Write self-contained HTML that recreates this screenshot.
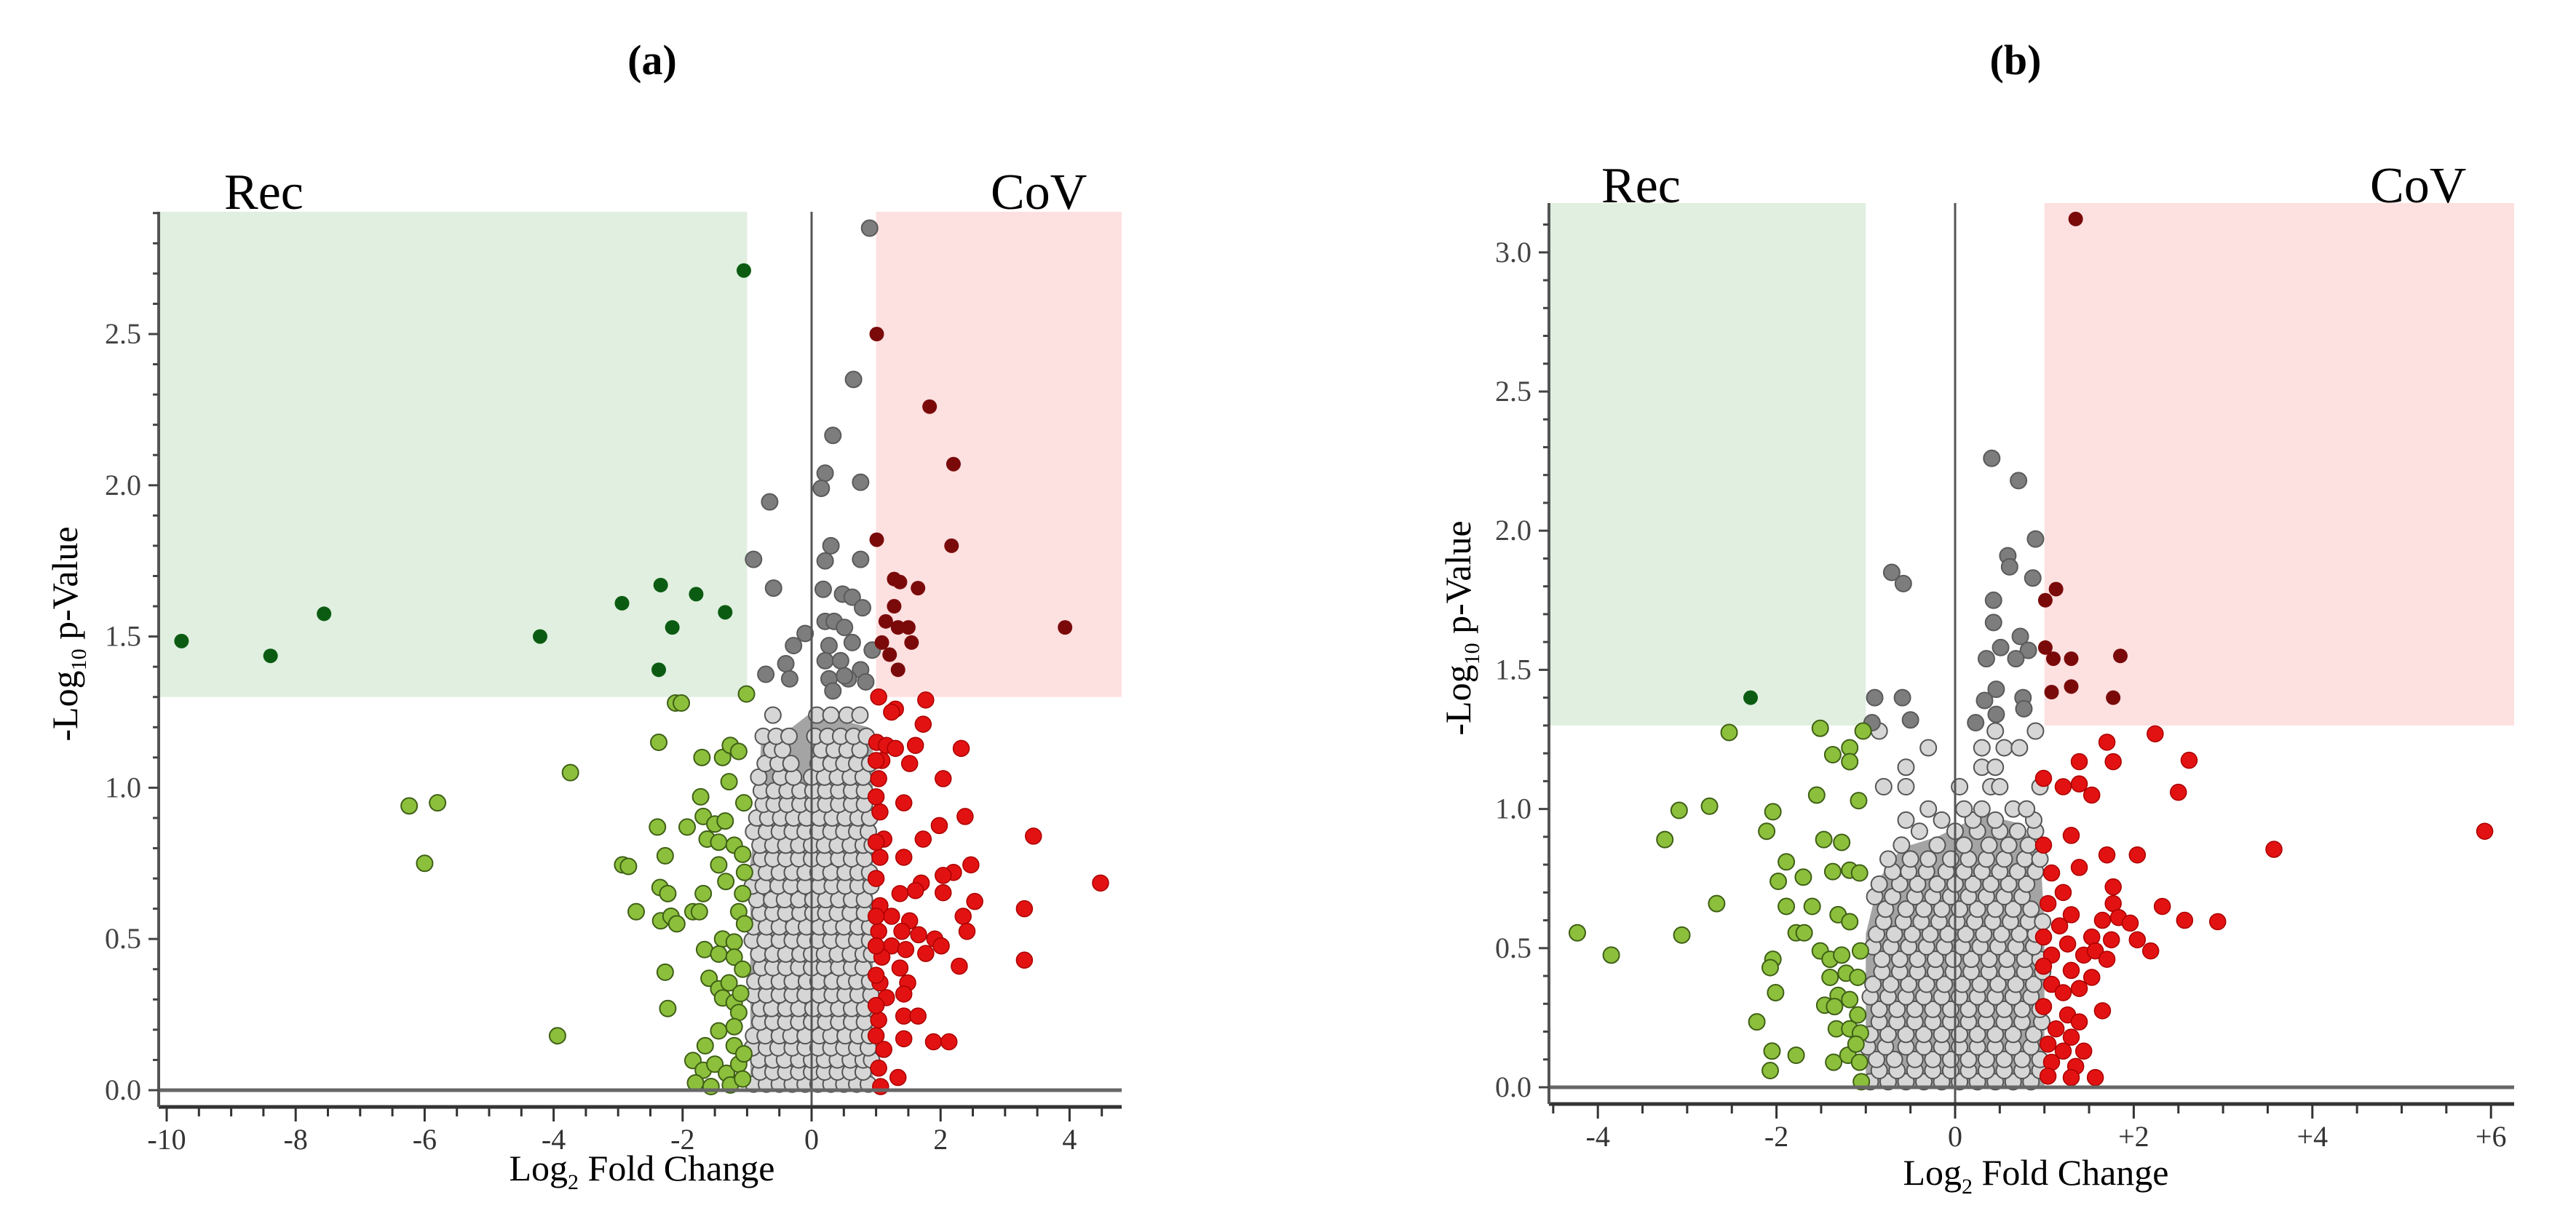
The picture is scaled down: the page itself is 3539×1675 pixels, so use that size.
<!DOCTYPE html>
<html><head><meta charset="utf-8"><style>
html,body{margin:0;padding:0;background:#fff;}
svg{display:block;font-family:"Liberation Serif",serif;}
</style></head><body>
<svg id="chart" width="3539" height="1675" viewBox="0 0 3539 1675" xmlns="http://www.w3.org/2000/svg">
<rect width="3539" height="1675" fill="#fff"/>
<text x="896" y="102" font-size="58" font-weight="bold" text-anchor="middle">(a)</text>
<text x="2769" y="102" font-size="58" font-weight="bold" text-anchor="middle">(b)</text>
<g id="pa"></g>
<g id="pb"></g>
</svg>
<script>
// ---------- Panel (a) data ----------
const aDownSigX = [-9.77,-8.39,-7.56,-4.21,-2.94,-2.34,-1.79,-1.34,-2.16,-2.37,-1.05];
const aDownSigY = [1.485,1.436,1.575,1.50,1.61,1.67,1.64,1.58,1.53,1.39,2.71];
const aUpSigX = [1.01,1.83,2.2,2.17,1.01,3.93,1.28,1.37,1.65,1.28,1.15,1.34,1.50,1.55,1.21,1.34,1.09];
const aUpSigY = [2.50,2.26,2.07,1.80,1.82,1.53,1.69,1.68,1.66,1.60,1.55,1.53,1.53,1.48,1.44,1.39,1.48];
const aGraySigX = [0.9,0.65,0.33,0.21,0.15,0.76,-0.65,0.30,0.21,-0.9,0.76,-0.59,0.18,0.48,0.63,0.79,0.21,0.35,0.51,0.63,-0.1,-0.28,0.27,0.94,-0.4,0.21,0.45,0.76,-0.71,-0.34,0.27,0.57,0.84,0.33,0.51];
const aGraySigY = [2.85,2.35,2.165,2.04,1.99,2.01,1.945,1.80,1.75,1.755,1.755,1.66,1.656,1.64,1.63,1.595,1.55,1.55,1.53,1.48,1.51,1.47,1.47,1.455,1.41,1.42,1.42,1.39,1.375,1.36,1.36,1.36,1.35,1.32,1.37];
const aDownX = [-1.01,-2.11,-2.02,-2.37,-3.74,-6.24,-5.8,-6.0,-3.94,-1.70,-1.38,-1.26,-1.13,-1.28,-1.05,-1.72,-1.68,-1.5,-1.34,-2.39,-1.93,-1.62,-1.44,-1.2,-1.07,-2.27,-2.93,-2.84,-1.44,-1.33,-2.35,-2.23,-1.68,-1.07,-2.72,-1.84,-1.74,-1.13,-2.34,-2.18,-2.09,-1.38,-1.2,-1.66,-1.44,-1.2,-2.27,-1.59,-1.44,-1.28,-1.38,-1.2,-2.23,-1.13,-1.44,-1.2,-1.65,-1.2,-1.84,-1.68,-1.5,-1.32,-1.13,-1.8,-1.56,-1.26,-1.07,-1.07,-1.1,-1.04,-1.04,-1.05];
const aDownY = [1.31,1.28,1.28,1.15,1.05,0.94,0.95,0.75,0.18,1.10,1.10,1.14,1.12,1.02,0.95,0.97,0.905,0.88,0.89,0.87,0.87,0.83,0.82,0.81,0.78,0.775,0.745,0.74,0.745,0.69,0.67,0.65,0.65,0.65,0.59,0.59,0.59,0.59,0.56,0.575,0.55,0.50,0.49,0.465,0.45,0.44,0.39,0.37,0.335,0.355,0.305,0.29,0.27,0.257,0.196,0.21,0.147,0.147,0.098,0.066,0.086,0.056,0.086,0.024,0.012,0.017,0.037,0.40,0.32,0.55,0.72,0.12];
const aUpX = [1.04,1.30,1.77,1.24,1.73,2.32,1.01,1.16,1.30,1.61,1.52,1.09,2.04,1.04,1.43,1.06,2.38,1.98,3.44,1.73,1.12,1.43,1.06,2.47,2.2,2.04,4.48,1.70,1.37,1.61,2.04,2.53,3.3,1.06,1.24,1.52,2.35,2.41,1.04,1.40,1.66,1.91,2.01,1.24,1.46,1.77,3.3,2.29,1.09,1.37,1.06,1.49,1.16,1.43,1.04,1.43,1.65,1.89,2.13,1.12,1.43,1.04,1.34,1.07,1.0,1.0,1.0,1.0,1.0,1.0,1.0,1.0,1.0];
const aUpY = [1.30,1.26,1.29,1.25,1.21,1.13,1.15,1.14,1.13,1.14,1.08,1.09,1.03,1.03,0.95,0.92,0.905,0.875,0.84,0.83,0.83,0.77,0.77,0.745,0.72,0.71,0.685,0.685,0.65,0.66,0.653,0.624,0.60,0.61,0.575,0.56,0.575,0.525,0.525,0.525,0.514,0.50,0.477,0.477,0.465,0.452,0.43,0.41,0.44,0.404,0.355,0.355,0.306,0.318,0.232,0.245,0.245,0.16,0.16,0.135,0.17,0.073,0.042,0.012,0.18,0.28,0.38,0.477,0.575,0.70,0.82,0.97,1.09];
const aGrayRows = [
 [0.02,[-0.9,-0.7,-0.5,-0.3,-0.1,0.1,0.3,0.5,0.7,0.88]],
 [0.06,[-0.8,-0.6,-0.4,-0.2,0.0,0.2,0.4,0.6,0.8]],
 [0.10,[-0.82,-0.6,-0.42,-0.2,0.0,0.2,0.4,0.6,0.8,0.93]],
 [0.14,[-0.92,-0.7,-0.52,-0.3,-0.1,0.1,0.3,0.5,0.7,0.88]],
 [0.18,[-0.9,-0.72,-0.5,-0.32,-0.1,0.12,0.3,0.52,0.72,0.9]],
 [0.225,[-0.8,-0.6,-0.4,-0.2,0.0,0.22,0.42,0.62,0.82]],
 [0.27,[-0.8,-0.62,-0.4,-0.2,0.02,0.22,0.42,0.62,0.82]],
 [0.315,[-0.9,-0.7,-0.5,-0.3,-0.1,0.12,0.32,0.52,0.72,0.92]],
 [0.36,[-0.88,-0.7,-0.5,-0.3,-0.08,0.1,0.32,0.52,0.7,0.9]],
 [0.405,[-0.78,-0.6,-0.4,-0.2,0.0,0.2,0.42,0.62,0.8]],
 [0.45,[-0.82,-0.6,-0.4,-0.18,0.0,0.2,0.4,0.6,0.8,0.93]],
 [0.495,[-0.92,-0.72,-0.5,-0.3,-0.1,0.1,0.3,0.5,0.7,0.9]],
 [0.54,[-0.9,-0.7,-0.5,-0.28,-0.08,0.12,0.3,0.5,0.72,0.9]],
 [0.585,[-0.8,-0.6,-0.4,-0.18,0.02,0.22,0.4,0.6,0.82]],
 [0.63,[-0.85,-0.62,-0.42,-0.2,0.02,0.22,0.42,0.62,0.82]],
 [0.675,[-0.92,-0.75,-0.52,-0.32,-0.1,0.12,0.32,0.52,0.72,0.92]],
 [0.72,[-0.88,-0.7,-0.5,-0.3,-0.1,0.1,0.3,0.52,0.72,0.9]],
 [0.765,[-0.78,-0.6,-0.4,-0.2,0.0,0.2,0.42,0.62,0.82]],
 [0.81,[-0.8,-0.6,-0.4,-0.2,0.0,0.2,0.4,0.6,0.8,0.94]],
 [0.855,[-0.9,-0.7,-0.5,-0.3,-0.1,0.1,0.3,0.5,0.7,0.88]],
 [0.90,[-0.85,-0.68,-0.48,-0.28,-0.08,0.12,0.32,0.52,0.72,0.9]],
 [0.945,[-0.75,-0.58,-0.38,-0.18,0.02,0.22,0.42,0.62,0.82]],
 [0.99,[-0.78,-0.58,-0.38,-0.18,0.02,0.22,0.42,0.62,0.82]],
 [1.035,[-0.82,-0.48,-0.28,0.0,0.2,0.4,0.6,0.8]],
 [1.08,[-0.72,-0.52,-0.32,0.1,0.3,0.5,0.7,0.9]],
 [1.125,[-0.62,-0.45,0.15,0.35,0.55,0.75]],
 [1.17,[-0.75,-0.55,-0.35,0.05,0.25,0.45,0.65,0.85]],
 [1.24,[-0.6,0.08,0.3,0.55,0.75]]
];
const aBackdrop = [[-0.95,0],[-0.95,0.75],[-0.82,0.95],[-0.78,1.18],[-0.3,1.2],[0,1.25],[0.88,1.2],[0.95,1.12],[0.95,0]];
const aXTicks = [-10,-8,-6,-4,-2,0,2,4];
const aXTickLabels = ["-10","-8","-6","-4","-2","0","2","4"];
const aYTicks = [0,0.5,1.0,1.5,2.0,2.5];
const aYTickLabels = ["0.0","0.5","1.0","1.5","2.0","2.5"];

// ---------- Panel (b) data ----------
const bDownSigX = [-2.29];
const bDownSigY = [1.40];
const bUpSigX = [1.35,1.01,1.13,1.01,1.10,1.30,1.85,1.08,1.30,1.77];
const bUpSigY = [3.12,1.75,1.79,1.58,1.54,1.54,1.55,1.42,1.44,1.40];
const bGraySigX = [0.41,0.71,0.9,0.59,0.61,0.87,-0.71,-0.58,0.43,0.43,0.73,0.51,0.82,0.35,0.68,0.46,0.33,-0.9,-0.59,0.76,0.77,0.46,-0.5,-0.93,0.23];
const bGraySigY = [2.26,2.18,1.97,1.91,1.87,1.83,1.85,1.81,1.75,1.67,1.62,1.58,1.57,1.54,1.54,1.43,1.39,1.40,1.40,1.40,1.36,1.34,1.32,1.31,1.31];
const bDownX = [-2.53,-1.51,-1.03,-1.18,-1.37,-1.18,-1.55,-1.08,-3.09,-2.75,-2.04,-2.11,-3.25,-1.47,-1.27,-1.89,-1.98,-1.70,-1.37,-1.18,-1.07,-2.67,-1.89,-1.6,-1.31,-1.18,-4.23,-3.06,-1.78,-1.69,-3.85,-2.04,-2.07,-2.01,-2.22,-2.05,-1.78,-2.07,-1.51,-1.40,-1.27,-1.06,-1.40,-1.22,-1.09,-1.31,-1.18,-1.46,-1.35,-1.09,-1.33,-1.18,-1.06,-1.36,-1.2,-1.07,-1.11,-1.05];
const bDownY = [1.275,1.29,1.28,1.22,1.195,1.17,1.05,1.03,0.995,1.01,0.99,0.92,0.89,0.89,0.88,0.81,0.74,0.755,0.775,0.78,0.77,0.66,0.65,0.65,0.62,0.595,0.555,0.547,0.555,0.555,0.475,0.46,0.43,0.34,0.235,0.13,0.115,0.06,0.49,0.46,0.475,0.49,0.395,0.41,0.395,0.33,0.315,0.295,0.29,0.26,0.21,0.21,0.195,0.09,0.115,0.09,0.155,0.02];
const bUpX = [2.24,1.70,1.77,1.39,2.62,0.99,1.39,1.21,1.53,2.50,5.93,1.30,0.99,3.57,1.70,2.04,1.39,1.08,1.77,1.21,1.04,1.77,2.32,1.30,1.65,1.83,1.96,2.57,2.94,1.17,0.99,1.53,1.75,2.04,1.26,2.19,1.08,1.44,1.57,1.70,0.99,1.30,1.53,1.08,1.21,1.39,1.65,0.99,1.26,1.39,1.13,1.30,1.04,1.21,1.44,1.08,1.35,1.57,1.04,1.30];
const bUpY = [1.27,1.24,1.17,1.17,1.175,1.11,1.09,1.08,1.05,1.06,0.92,0.905,0.87,0.855,0.835,0.835,0.79,0.77,0.72,0.70,0.66,0.66,0.65,0.62,0.60,0.61,0.59,0.60,0.595,0.58,0.54,0.54,0.53,0.53,0.515,0.49,0.475,0.475,0.49,0.46,0.435,0.42,0.395,0.37,0.34,0.355,0.275,0.29,0.26,0.235,0.21,0.18,0.155,0.13,0.13,0.09,0.075,0.035,0.04,0.035];
const bGrayRows = [
 [0.02,[-0.95,-0.75,-0.55,-0.35,-0.15,0.05,0.25,0.45,0.65,0.85]],
 [0.06,[-0.85,-0.65,-0.45,-0.25,-0.05,0.15,0.35,0.55,0.75,0.95]],
 [0.10,[-0.88,-0.68,-0.45,-0.25,-0.05,0.15,0.35,0.55,0.75,0.95]],
 [0.145,[-0.98,-0.78,-0.55,-0.35,-0.15,0.05,0.25,0.45,0.65,0.85]],
 [0.19,[-0.95,-0.75,-0.55,-0.35,-0.15,0.05,0.25,0.45,0.65,0.88]],
 [0.235,[-0.85,-0.65,-0.45,-0.25,-0.05,0.15,0.35,0.55,0.75,0.97]],
 [0.28,[-0.85,-0.65,-0.45,-0.25,-0.05,0.15,0.35,0.55,0.75,0.95]],
 [0.325,[-0.95,-0.75,-0.55,-0.35,-0.15,0.05,0.25,0.45,0.65,0.85]],
 [0.37,[-0.92,-0.72,-0.52,-0.32,-0.12,0.08,0.28,0.48,0.68,0.88]],
 [0.415,[-0.82,-0.62,-0.42,-0.22,-0.02,0.18,0.38,0.58,0.78,0.98]],
 [0.46,[-0.82,-0.62,-0.42,-0.22,-0.02,0.18,0.38,0.58,0.78,0.95]],
 [0.505,[-0.92,-0.72,-0.52,-0.32,-0.12,0.08,0.28,0.48,0.68,0.88]],
 [0.55,[-0.88,-0.68,-0.48,-0.28,-0.08,0.12,0.32,0.52,0.72,0.9]],
 [0.595,[-0.8,-0.58,-0.38,-0.18,0.02,0.22,0.42,0.62,0.82,0.98]],
 [0.64,[-0.78,-0.55,-0.35,-0.15,0.05,0.25,0.45,0.65,0.85]],
 [0.685,[-0.9,-0.7,-0.45,-0.25,-0.05,0.15,0.35,0.55,0.75]],
 [0.73,[-0.85,-0.62,-0.42,-0.2,0.0,0.2,0.4,0.6,0.8]],
 [0.775,[-0.7,-0.52,-0.32,-0.1,0.1,0.3,0.5,0.7,0.9]],
 [0.82,[-0.75,-0.5,-0.3,-0.05,0.15,0.35,0.55,0.78,0.95]],
 [0.87,[-0.6,-0.2,0.1,0.38,0.6,0.82]],
 [0.92,[-0.4,0.0,0.25,0.5,0.7,0.9]],
 [0.96,[-0.55,-0.15,0.2,0.45,0.88]],
 [1.00,[-0.3,0.1,0.3,0.65,0.8]],
 [1.08,[-0.8,-0.55,0.05,0.4,0.5,0.95]],
 [1.15,[-0.55,0.3,0.45]],
 [1.22,[-0.3,0.3,0.55,0.72]],
 [1.28,[-0.85,0.45,0.9]]
];
const bBackdrop = [[-1,0],[-1,0.55],[-0.85,0.75],[-0.6,0.86],[-0.2,0.9],[0.3,0.98],[0.7,0.95],[0.95,0.85],[1,0.6],[1,0]];
const bXTicks = [-4,-2,0,2,4,6];
const bXTickLabels = ["-4","-2","0","+2","+4","+6"];
const bYTicks = [0,0.5,1.0,1.5,2.0,2.5,3.0];
const bYTickLabels = ["0.0","0.5","1.0","1.5","2.0","2.5","3.0"];

const NS = "http://www.w3.org/2000/svg";
function mk(parent, tag, attrs){
  const e = document.createElementNS(NS, tag);
  for (const k in attrs) e.setAttribute(k, attrs[k]);
  parent.appendChild(e);
  return e;
}

function drawPanel(g, cfg){
  const X = v => cfg.x0 + cfg.ux * v;
  const Y = v => cfg.y0 - cfg.uy * v;
  let r = mk(g,'rect',{x:cfg.left,y:cfg.top,width:X(-1)-cfg.left,height:Y(1.3)-cfg.top,fill:'#e0efe0'});
  
  
  r = mk(g,'rect',{x:X(1),y:cfg.top,width:cfg.right-X(1),height:Y(1.3)-cfg.top,fill:'#fde0e0'});
  
  
  let t = mk(g,'text',{x:cfg.recX,y:cfg.labY,'font-size':70});
  t.textContent='Rec';
  
  
  t = mk(g,'text',{x:cfg.covX,y:cfg.labY,'font-size':70});
  t.textContent='CoV';
  
  
  const bp = mk(g,'polygon',{points:cfg.backdrop.map(p=>X(p[0])+','+Y(p[1])).join(' '),fill:'#a4a4a4'});
  
  
  const R = 11;
  cfg.grayRows.forEach(row=>{
    row[1].forEach(xv=>{
      const c = mk(g,'circle',{cx:X(xv),cy:Y(row[0]),r:R,fill:'#d6d6d6',stroke:'#555','stroke-width':2});
      
      
    });
  });
  cfg.graySigX.forEach((xv,i)=>{
    const c = mk(g,'circle',{cx:X(xv),cy:Y(cfg.graySigY[i]),r:R,fill:'#7d7d7d',stroke:'#5a5a5a','stroke-width':2});
    
    
  });
  cfg.downX.forEach((xv,i)=>{
    const c = mk(g,'circle',{cx:X(xv),cy:Y(cfg.downY[i]),r:R,fill:'#8cc03c',stroke:'#3f5f16','stroke-width':2});
    
    
  });
  cfg.upX.forEach((xv,i)=>{
    const c = mk(g,'circle',{cx:X(xv),cy:Y(cfg.upY[i]),r:R,fill:'#e31212',stroke:'#a00','stroke-width':1.5});
    
    
  });
  cfg.downSigX.forEach((xv,i)=>{
    const c = mk(g,'circle',{cx:X(xv),cy:Y(cfg.downSigY[i]),r:10,fill:'#0b5c12'});
    
    
  });
  cfg.upSigX.forEach((xv,i)=>{
    const c = mk(g,'circle',{cx:X(xv),cy:Y(cfg.upSigY[i]),r:10,fill:'#7a0a0a'});
    
    
  });
  let l = mk(g,'line',{x1:X(0),x2:X(0),y1:cfg.top,y2:cfg.bottom,stroke:'#555','stroke-width':3});
  
  
  l = mk(g,'line',{x1:cfg.left,x2:cfg.right,y1:Y(0),y2:Y(0),stroke:'#666','stroke-width':5});
  
  
  l = mk(g,'line',{x1:cfg.left,x2:cfg.right,y1:cfg.bottom,y2:cfg.bottom,stroke:'#333','stroke-width':5});
  
  
  l = mk(g,'line',{x1:cfg.left,x2:cfg.left,y1:cfg.top,y2:cfg.bottom,stroke:'#555','stroke-width':4});
  
  
  for (let v = cfg.xMinorStart; X(v) <= cfg.right+1; v += 0.5){
    const major = Math.abs(v/2 - Math.round(v/2)) < 1e-6;
    const tk = mk(g,'line',{x1:X(v),x2:X(v),y1:cfg.bottom,y2:cfg.bottom+(major?20:13),stroke:'#333','stroke-width':3});
    
    
  }
  cfg.xTicks.forEach((v,i)=>{
    const tl = mk(g,'text',{x:X(v),y:cfg.bottom+58,'font-size':40,'text-anchor':'middle',fill:'#333'});
    tl.textContent = cfg.xTickLabels[i];
    
    
  });
  for (let v = 0; Y(v) >= cfg.top-1; v += 0.1){
    const major = Math.abs(v*2 - Math.round(v*2)) < 1e-6;
    const tk = mk(g,'line',{x1:cfg.left-(major?14:8),x2:cfg.left,y1:Y(v),y2:Y(v),stroke:'#444','stroke-width':3});
    
    
  }
  cfg.yTicks.forEach((v,i)=>{
    const tl = mk(g,'text',{x:cfg.left-24,y:Y(v)+13,'font-size':40,'text-anchor':'end',fill:'#444'});
    tl.textContent = cfg.yTickLabels[i];
    
    
  });
  const xt = mk(g,'text',{x:cfg.xtX,y:cfg.xtY,'font-size':50,'text-anchor':'middle'});
  xt.innerHTML = 'Log<tspan font-size="30" dy="12">2</tspan><tspan dy="-12"> Fold Change</tspan>';
  
  
  const yt = mk(g,'text',{x:0,y:0,'font-size':50,'text-anchor':'middle',transform:`translate(${cfg.ytX},${cfg.ytY}) rotate(-90)`});
  yt.innerHTML = '-Log<tspan font-size="30" dy="12">10</tspan><tspan dy="-12"> p-Value</tspan>';
  
  
}

drawPanel(document.getElementById('pa'), {
  x0:1115, ux:88.6, y0:1498, uy:415.6, left:218, right:1541, top:291, bottom:1521,
  recX:308, covX:1361, labY:287, xMinorStart:-10, xtX:882, xtY:1622, ytX:106, ytY:871,
  backdrop:aBackdrop, grayRows:aGrayRows, graySigX:aGraySigX, graySigY:aGraySigY,
  downX:aDownX, downY:aDownY, upX:aUpX, upY:aUpY,
  downSigX:aDownSigX, downSigY:aDownSigY, upSigX:aUpSigX, upSigY:aUpSigY,
  xTicks:aXTicks, xTickLabels:aXTickLabels, yTicks:aYTicks, yTickLabels:aYTickLabels
});
drawPanel(document.getElementById('pb'), {
  x0:2686, ux:122.7, y0:1494, uy:382.4, left:2128, right:3454, top:279, bottom:1517,
  recX:2200, covX:3256, labY:278, xMinorStart:-4.5, xtX:2797, xtY:1628, ytX:2020, ytY:863,
  backdrop:bBackdrop, grayRows:bGrayRows, graySigX:bGraySigX, graySigY:bGraySigY,
  downX:bDownX, downY:bDownY, upX:bUpX, upY:bUpY,
  downSigX:bDownSigX, downSigY:bDownSigY, upSigX:bUpSigX, upSigY:bUpSigY,
  xTicks:bXTicks, xTickLabels:bXTickLabels, yTicks:bYTicks, yTickLabels:bYTickLabels
});
</script>
</body></html>
